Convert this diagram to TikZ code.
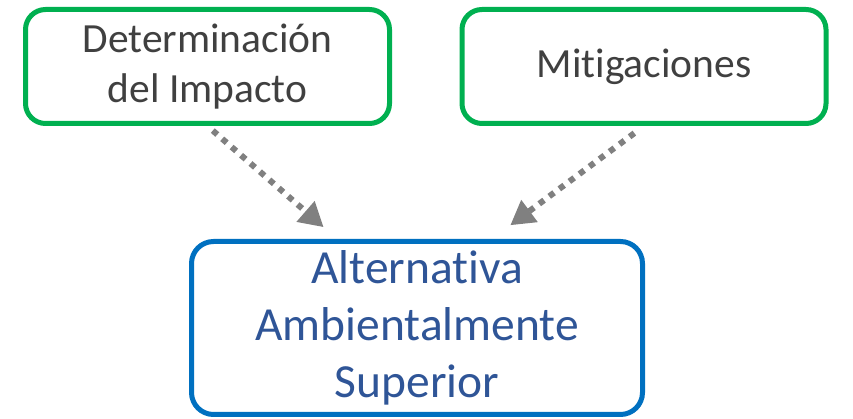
\documentclass[tikz,border=0pt]{standalone}
\usepackage{fontspec}
\setmainfont{Carlito}[Ligatures=NoCommon]
\usetikzlibrary{arrows.meta,calc}
\definecolor{boxgreen}{HTML}{00B050}
\definecolor{boxblue}{HTML}{0070C0}
\definecolor{txtgray}{HTML}{404040}
\definecolor{txtblue}{HTML}{2F5597}
\definecolor{arrgray}{HTML}{808080}
\begin{document}
\begin{tikzpicture}[x=1pt,y=1pt]
	\tikzstyle{greenbox}=[draw=boxgreen, line width=5pt, rounded corners=20pt, align=center, text=txtgray, font=\fontsize{41.5}{50}\selectfont, minimum width=364pt, minimum height=114pt, inner sep=0pt]
	\tikzstyle{bluebox}=[draw=boxblue, line width=5pt, rounded corners=22pt, align=center, text=txtblue, font=\fontsize{47.5}{57}\selectfont, minimum width=451pt, minimum height=173pt, inner sep=0pt]
	\tikzstyle{dotarrow}=[draw=arrgray, line width=6pt, dash pattern=on 6pt off 6.5pt, -{Triangle[length=24pt,width=26pt,fill=arrgray]}]
	\useasboundingbox (0,0) rectangle (853,419);
	\node[greenbox] (det) at (207.5,352.5) {Determinación\\del Impacto};
	\node[greenbox] (mit) at (644,352.5) {Mitigaciones};
	\node[bluebox] (alt) at (417,91) {Alternativa\\Ambientalmente\\Superior};
	\draw[dotarrow, shorten <=7pt, shorten >=18pt] (det.south) -- ($(alt.north west)!0.325!(alt.north east)$);
	\draw[dotarrow, shorten <=12pt, shorten >=23pt] (mit.south) -- ($(alt.north west)!0.664!(alt.north east)$);
\end{tikzpicture}
\end{document}
